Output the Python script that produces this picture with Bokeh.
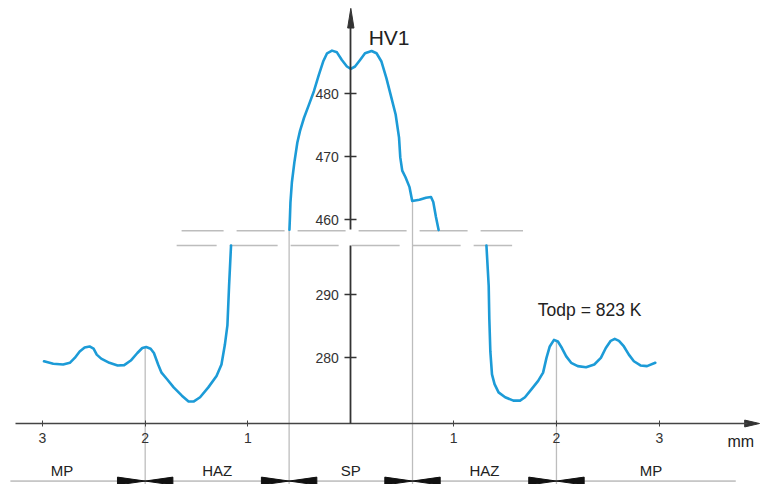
import numpy as np
from bokeh.plotting import figure
from bokeh.models import LinearAxis, FixedTicker, CustomJSTickFormatter, Range1d
from bokeh.embed import file_html
from bokeh.resources import INLINE
from bokeh.core.properties import value

# ---------------- data (distance in mm, hardness HV1) ----------------
left_x = [-2.984, -2.894, -2.798, -2.733, -2.685, -2.637, -2.589, -2.541, -2.502, -2.471,
          -2.428, -2.348, -2.268, -2.204, -2.140, -2.076, -2.028, -1.990, -1.947, -1.915,
          -1.874, -1.841, -1.787, -1.723, -1.643, -1.578, -1.530, -1.466, -1.386, -1.306,
          -1.258, -1.225, -1.200, -1.184, -1.165]
left_hv = [279.42, 279.02, 278.91, 279.17, 279.95, 280.98, 281.61, 281.77, 281.41, 280.47,
           279.84, 279.17, 278.75, 278.80, 279.53, 280.73, 281.52, 281.67, 281.41, 280.73,
           278.91, 277.61, 276.56, 275.27, 273.95, 273.02, 273.02, 273.70, 275.27, 277.08,
           278.91, 282.03, 285.16, 291.41, 297.81]

upper_x = [-0.597, -0.592, -0.587, -0.573, -0.549, -0.520, -0.494, -0.455, -0.407, -0.359,
           -0.311, -0.269, -0.231, -0.183, -0.135, -0.087, -0.038, 0.000, 0.041, 0.090,
           0.138, 0.202, 0.250, 0.298, 0.346, 0.395, 0.436, 0.469, 0.481, 0.500,
           0.532, 0.571, 0.597, 0.667, 0.731, 0.780, 0.802, 0.828, 0.854]
upper_hv = [458.43, 460.47, 462.83, 465.98, 469.13, 472.28, 474.13, 476.22, 478.31, 480.43,
            483.04, 485.15, 486.46, 486.88, 486.61, 485.40, 484.36, 483.98, 484.36, 485.40,
            486.46, 486.82, 486.46, 485.15, 482.52, 479.37, 476.74, 473.07, 469.92, 467.83,
            466.77, 465.20, 462.99, 463.20, 463.51, 463.62, 462.83, 460.47, 458.38]

right_x = [1.319, 1.341, 1.347, 1.357, 1.373, 1.398, 1.437, 1.501, 1.581, 1.646,
           1.694, 1.758, 1.822, 1.870, 1.903, 1.935, 1.976, 2.014, 2.053, 2.095,
           2.143, 2.207, 2.288, 2.368, 2.432, 2.480, 2.528, 2.567, 2.608, 2.656,
           2.704, 2.753, 2.817, 2.881, 2.961]
right_hv = [297.81, 291.41, 286.20, 280.98, 277.34, 275.78, 274.48, 273.70, 273.17, 273.17,
            273.70, 275.00, 276.30, 277.61, 279.95, 281.77, 282.81, 282.55, 281.52, 280.20,
            279.17, 278.64, 278.48, 278.91, 279.95, 281.52, 282.66, 282.97, 282.66, 281.77,
            280.47, 279.42, 278.75, 278.64, 279.17]

x_ticks = [-3, -2, -1, 1, 2, 3]
upper_ticks = [460, 470, 480]
lower_ticks = [280, 290]

zone_labels = ["MP", "HAZ", "SP", "HAZ", "MP"]
zone_label_x = [-2.81, -1.30, 0.0, 1.30, 2.92]
zone_bounds = [-2.0, -0.6, 0.6, 2.0]
zone_bound_part = ["left", "upper", "upper", "right"]

# ---------------- layout constants ----------------
OFFSET = 158.125          # upper (broken) part shift: display = HV - OFFSET
PX_X = 103.9              # reference px per mm
PX_Y = 6.4                # reference px per HV
X0_PX = 354.0             # reference px of x = 0
Y280_PX = 363.0           # reference px of HV 280


def xd(px):
    return (px - X0_PX) / PX_X


def yd(py):
    return 280 + (Y280_PX - py) / PX_Y


X_AXIS_LEVEL = yd(430)
UP_BREAK_D = yd(234)
LOW_BREAK_D = yd(249)
Y_BOTTOM = yd(492)

BLUE = "#1C9BD7"
GREY = "#bdbdbd"
DARK = "#333333"
FONT = "Liberation Sans"

p = figure(width=761, height=484, x_range=Range1d(xd(0), xd(769)),
           y_range=Range1d(Y_BOTTOM, yd(0)), output_backend="svg",
           toolbar_location=None, x_axis_type=None, y_axis_type=None,
           min_border=0, outline_line_color=None)
p.xgrid.visible = False
p.ygrid.visible = False
p.background_fill_color = "white"

parts = {
    "left": (np.array(left_x), np.array(left_hv)),
    "upper": (np.array(upper_x), np.array(upper_hv) - OFFSET),
    "right": (np.array(right_x), np.array(right_hv)),
}

# grey boundary lines from the curve down to the bottom
for b, part in zip(zone_bounds, zone_bound_part):
    xs, ys = parts[part]
    top = float(np.interp(b, xs, ys))
    p.segment(x0=[b], y0=[top], x1=[b], y1=[Y_BOTTOM], line_color=GREY, line_width=1.3)

# dashed axis-break lines
p.segment(x0=[xd(183)], y0=[UP_BREAK_D], x1=[xd(528)], y1=[UP_BREAK_D],
          line_color=GREY, line_width=1.5, line_dash="48 13", line_dash_offset=6)
p.segment(x0=[xd(178)], y0=[LOW_BREAK_D], x1=[xd(517)], y1=[LOW_BREAK_D],
          line_color=GREY, line_width=1.5, line_dash="48 13", line_dash_offset=8)

# hardness curve
for key in ["left", "upper", "right"]:
    xs, ys = parts[key]
    p.line(xs, ys, line_color=BLUE, line_width=2.6, line_join="round", line_cap="round")

# x axis at fixed location
xaxis = LinearAxis(fixed_location=X_AXIS_LEVEL, bounds=(xd(15), xd(755)),
                   ticker=FixedTicker(ticks=x_ticks),
                   formatter=CustomJSTickFormatter(code="return Math.abs(tick).toFixed(0)"))
xaxis.axis_line_color = "#444444"
xaxis.axis_line_width = 1.3
xaxis.major_tick_line_color = "#444444"
xaxis.major_tick_in = 3
xaxis.major_tick_out = 3
xaxis.minor_tick_line_color = None
xaxis.major_label_standoff = 6
xaxis.major_label_text_font = FONT
xaxis.major_label_text_font_size = "14px"
xaxis.major_label_text_color = DARK
p.add_layout(xaxis, "below")


# broken y axis: upper and lower parts
def make_yaxis(ticks, bounds, offset):
    ax = LinearAxis(fixed_location=0, bounds=bounds,
                    ticker=FixedTicker(ticks=[t - offset for t in ticks]),
                    formatter=CustomJSTickFormatter(code="return (tick + %r).toFixed(0)" % offset))
    ax.axis_line_color = DARK
    ax.axis_line_width = 1.8
    ax.major_tick_line_color = DARK
    ax.major_tick_line_width = 1.3
    ax.major_tick_in = 6
    ax.major_tick_out = 6
    ax.minor_tick_line_color = None
    ax.major_label_standoff = 6
    ax.major_label_text_font = FONT
    ax.major_label_text_font_size = "14px"
    ax.major_label_text_color = DARK
    return ax


upper_axis = make_yaxis(upper_ticks, (yd(233), yd(27)), OFFSET)
lower_axis = make_yaxis(lower_ticks, (X_AXIS_LEVEL, LOW_BREAK_D), 0.0)
p.add_layout(upper_axis, "left")
p.add_layout(lower_axis, "left")

# arrow heads
hw = 3.2 / PX_X
p.patch([-hw, 0, hw], [yd(28), yd(8), yd(28)], fill_color=DARK, line_color=DARK, line_width=1)
hh = 3.5 / PX_Y
p.patch([xd(752), xd(767), xd(752)], [X_AXIS_LEVEL - hh, X_AXIS_LEVEL, X_AXIS_LEVEL + hh],
        fill_color=DARK, line_color=DARK, line_width=1)

# zone dimension line with bow-tie arrows
dim_y = yd(488.5)
p.segment(x0=[xd(10)], y0=[dim_y], x1=[xd(743)], y1=[dim_y], line_color="#999999", line_width=1)
tw = 28 / PX_X
th = 4 / PX_Y
xs_tri, ys_tri = [], []
for b in zone_bounds:
    xs_tri.append([b - tw, b, b - tw])
    ys_tri.append([dim_y - th, dim_y, dim_y + th])
    xs_tri.append([b + tw, b, b + tw])
    ys_tri.append([dim_y - th, dim_y, dim_y + th])
p.patches(xs_tri, ys_tri, fill_color="#111111", line_color="#111111", line_width=1)

# zone labels
p.text(x=zone_label_x, y=[yd(478)] * len(zone_labels), text=zone_labels,
       text_font=value(FONT), text_font_size="15px", text_color="#222222",
       text_align="center", text_baseline="middle")

# other labels
p.text(x=[xd(372)], y=[yd(38)], text=["HV1"], text_font=value(FONT),
       text_font_size="21px", text_color="#222222", text_align="left", text_baseline="middle")
p.text(x=[xd(543)], y=[yd(315)], text=["Todp = 823 K"], text_font=value(FONT),
       text_font_size="17.5px", text_color="#222222", text_align="left", text_baseline="middle")
p.text(x=[xd(748)], y=[yd(448)], text=["mm"], text_font=value(FONT),
       text_font_size="16px", text_color="#222222", text_align="center", text_baseline="middle")

open("out.html", "w").write(file_html(p, INLINE))
